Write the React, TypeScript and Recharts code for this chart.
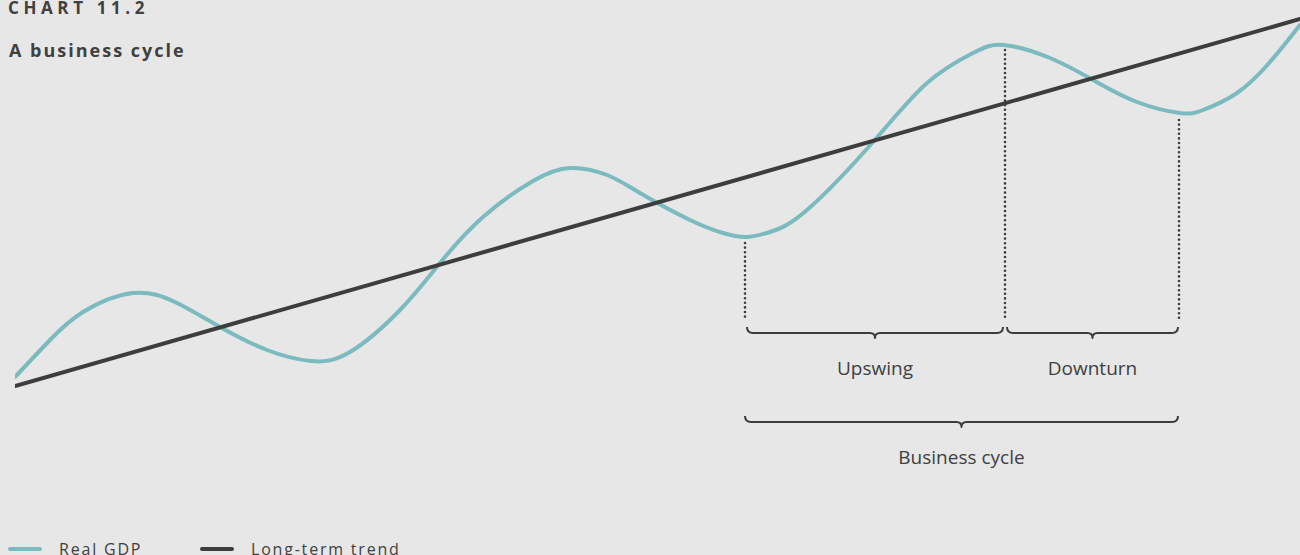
import React from "react";
import { LineChart, Line, XAxis, YAxis, ReferenceLine, Legend } from "recharts";

// Real GDP path (t = time units, v = output level)
const gdpT = [0, 35, 68, 118, 162, 205, 252, 296, 335, 385, 425, 468, 518, 555, 592, 625, 675, 708, 731, 755, 792, 858, 912, 958, 989, 1035, 1078, 1122, 1165, 1188, 1222, 1255, 1285];
const gdpV = [23, 60, 88, 107, 97, 73, 50, 39, 48, 90, 137, 183, 219, 232, 225, 207, 180, 167, 163, 168, 190, 258, 317, 347, 355, 342, 320, 298, 287, 290, 307, 338, 375];

// Long-term trend
const trendT = [0, 1285];
const trendV = [14, 381];

// Cycle markers: trough, peak, trough
const markerT = [730, 990, 1164];
const markerTop = [157, 350, 280];
const markerBottom = [79, 79, 79];

// Braces
const braceLabels = ["Upswing", "Downturn", "Business cycle"];
const braceFrom = [732, 992, 730];
const braceTo = [988, 1163, 1163];
const braceLevel = [67, 67, -22];

const titleText = "CHART 11.2";
const subtitleText = "A business cycle";
const seriesNames = ["Real GDP", "Long-term trend"];

const TEAL = "#7bbabe";
const DARK = "#3d3d3d";
const TEXT = "#404040";
const BG = "#e7e7e7";
const FONT = "'Open Sans', 'Noto Sans', sans-serif";

const gdpData = gdpT.map((t, i) => ({ t, v: gdpV[i] }));
const trendData = trendT.map((t, i) => ({ t, v: trendV[i] }));

const Brace = (props: any) => {
  const { x1, x2, y1, label } = props;
  const a = Math.min(x1, x2);
  const b = Math.max(x1, x2);
  const y = y1;
  const m = (a + b) / 2;
  const d = `M ${a} ${y - 6} Q ${a} ${y} ${a + 6} ${y} L ${m - 5} ${y} Q ${m} ${y} ${m} ${y + 5} Q ${m} ${y} ${m + 5} ${y} L ${b - 6} ${y} Q ${b} ${y} ${b} ${y - 6}`;
  return (
    <g>
      <path d={d} fill="none" stroke={DARK} strokeWidth={2} strokeLinejoin="round" />
      <text x={m} y={y + 42} textAnchor="middle" fontFamily={FONT} fontSize={19} fill={TEXT}>
        {label}
      </text>
    </g>
  );
};

const LegendContent = (props: any) => {
  const payload = [...(props.payload || [])].sort(
    (a: any, b: any) => seriesNames.indexOf(a.value) - seriesNames.indexOf(b.value)
  );
  return (
    <div style={{ position: "relative", width: 500, height: 24 }}>
      {payload.map((p: any, i: number) => (
        <div key={i} style={{ position: "absolute", left: 8 + i * 192, top: 0, height: 24 }}>
          <svg width={36} height={24} style={{ position: "absolute", left: 0, top: 0 }}>
            <line x1={2} y1={14} x2={32} y2={14} stroke={p.color} strokeWidth={4} strokeLinecap="round" />
          </svg>
          <span
            style={{
              position: "absolute",
              left: 51,
              top: 4,
              whiteSpace: "nowrap",
              fontFamily: FONT,
              fontSize: 16,
              letterSpacing: "1.8px",
              color: TEXT,
              lineHeight: "20px",
            }}
          >
            {p.value}
          </span>
        </div>
      ))}
    </div>
  );
};

export default function App() {
  return (
    <div
      style={{
        position: "absolute",
        left: 0,
        top: 0,
        width: 1300,
        height: 555,
        background: BG,
        overflow: "hidden",
      }}
    >
      <svg width={400} height={80} style={{ position: "absolute", left: 0, top: 0 }}>
        <text x={8} y={13.5} fontFamily={FONT} fontWeight={700} fontSize={17} letterSpacing={4.6} fill={TEXT}>
          {titleText}
        </text>
        <text x={9} y={57} fontFamily={FONT} fontWeight={700} fontSize={18} letterSpacing={2} fill={TEXT}>
          {subtitleText}
        </text>
      </svg>
      <div style={{ position: "absolute", left: 0, top: 0 }}>
        <LineChart width={1300} height={555} margin={{ top: 0, right: 0, left: 15, bottom: 55 }}>
          <XAxis type="number" dataKey="t" domain={[0, 1285]} hide allowDataOverflow />
          <YAxis type="number" domain={[-100, 400]} hide allowDataOverflow />
          {markerT.map((t, i) => (
            <ReferenceLine
              key={"m" + i}
              segment={[
                { x: t, y: markerTop[i] },
                { x: t, y: markerBottom[i] },
              ]}
              stroke={DARK}
              strokeWidth={2.6}
              strokeDasharray="0 4.6"
              strokeLinecap="round"
              ifOverflow="visible"
            />
          ))}
          {braceLabels.map((label, i) => (
            <ReferenceLine
              key={"b" + i}
              segment={[
                { x: braceFrom[i], y: braceLevel[i] },
                { x: braceTo[i], y: braceLevel[i] },
              ]}
              ifOverflow="visible"
              shape={(p: any) => <Brace {...p} label={label} />}
            />
          ))}
          <Line
            data={gdpData}
            dataKey="v"
            name={seriesNames[0]}
            type="natural"
            stroke={TEAL}
            strokeWidth={4}
            strokeLinecap="round"
            dot={false}
            activeDot={false}
            isAnimationActive={false}
          />
          <Line
            data={trendData}
            dataKey="v"
            name={seriesNames[1]}
            type="linear"
            stroke={DARK}
            strokeWidth={4}
            strokeLinecap="round"
            dot={false}
            activeDot={false}
            isAnimationActive={false}
          />
          <Legend
            layout="horizontal"
            verticalAlign="middle"
            align="center"
            content={<LegendContent />}
            wrapperStyle={{ left: 0, top: 535, width: 500, height: 24 }}
          />
        </LineChart>
      </div>
    </div>
  );
}
